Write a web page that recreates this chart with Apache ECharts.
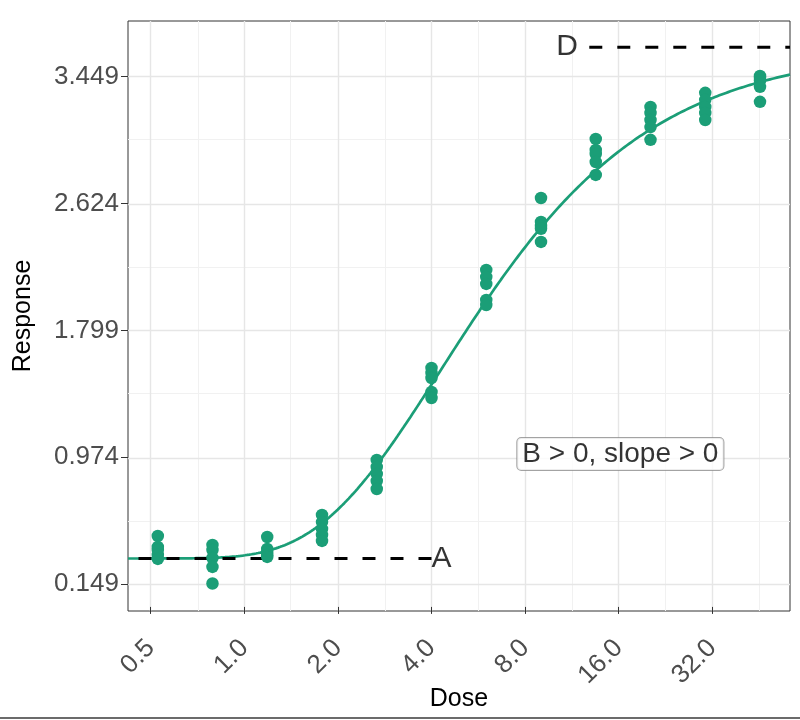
<!DOCTYPE html>
<html>
<head>
<meta charset="utf-8">
<script src="https://cdn.jsdelivr.net/npm/echarts@6/dist/echarts.min.js"></script>
<style>html,body{margin:0;padding:0;background:#fff}#c{width:800px;height:720px}</style>
</head>
<body>
<div id="c"></div>
<script>
// ---- data ----
const doses = [0.527, 0.79, 1.185, 1.778, 2.667, 4, 6, 9, 13.5, 20.25, 30.375, 45.5625];
const responsesByDose = [
  [0.461, 0.390, 0.370, 0.338, 0.312],
  [0.403, 0.370, 0.318, 0.260, 0.152],
  [0.455, 0.377, 0.357, 0.338, 0.325],
  [0.598, 0.552, 0.507, 0.468, 0.429],
  [0.956, 0.910, 0.865, 0.819, 0.767],
  [1.554, 1.522, 1.489, 1.398, 1.359],
  [2.192, 2.146, 2.101, 1.996, 1.964],
  [2.660, 2.504, 2.478, 2.459, 2.374],
  [3.044, 2.972, 2.946, 2.894, 2.810],
  [3.252, 3.213, 3.167, 3.121, 3.038],
  [3.344, 3.298, 3.252, 3.213, 3.167],
  [3.454, 3.441, 3.422, 3.383, 3.285]
];
// fitted model parameters (lower asymptote A, upper asymptote D, slope B, location C)
const paramA = 0.315;
const paramD = 3.641;
const paramB = 1.12;
const paramC = 4.28;
// annotation anchors (dose units)
const aSegmentEnd = 4;
const dSegmentStart = 12.87;
const dLabelDose = 11.84;
const boxLabel = 'B > 0, slope > 0';
const boxDose = 16.2;
const boxResponse = 0.995;
// axes
const xTicks = [0.5, 1, 2, 4, 8, 16, 32];
const xMinor = [0.7071, 1.4142, 2.8284, 5.6569, 11.3137, 22.6274, 45.2548];
const yTicks = [0.149, 0.974, 1.799, 2.624, 3.449];
const yMinor = [0.5615, 1.3865, 2.2115, 3.0365];
const xMin = 0.4226, xMax = 56.9;
const yMin = -0.0266, yMax = 3.811;

// ---- build ----
const green = '#1B9E77';
const font = 'Liberation Sans, Arial, Helvetica, sans-serif';
const points = [];
doses.forEach((d, i) => responsesByDose[i].forEach(r => points.push([d, r])));

function model(x) {
  return paramA + (paramD - paramA) * Math.exp(-Math.exp(-paramB * (Math.log(x) - Math.log(paramC))));
}
const curve = [];
const nCurve = 300;
for (let i = 0; i <= nCurve; i++) {
  const x = Math.exp(Math.log(xMin) + (Math.log(xMax) - Math.log(xMin)) * i / nCurve);
  curve.push([x, model(x)]);
}

const major = {color: '#e6e6e6', width: 1.4, type: 'solid'};
const minor = {color: '#f1f1f1', width: 1, type: 'solid'};
const gridLines = []
  .concat(xMinor.map(v => ({xAxis: v, lineStyle: minor})))
  .concat(yMinor.map(v => ({yAxis: v, lineStyle: minor})))
  .concat(xTicks.map(v => ({xAxis: v, lineStyle: major})))
  .concat(yTicks.map(v => ({yAxis: v, lineStyle: major})));

const chart = echarts.init(document.getElementById('c'), null, {renderer: 'canvas'});
chart.setOption({
  animation: false,
  backgroundColor: '#ffffff',
  textStyle: {fontFamily: font},
  grid: {left: 128, top: 21, right: 10, bottom: 109, show: true, borderColor: '#333333', borderWidth: 1, backgroundColor: 'transparent', containLabel: false, outerBoundsMode: 'none'},
  xAxis: {
    type: 'log', logBase: 2, min: xMin, max: xMax,
    name: 'Dose', nameLocation: 'middle', nameGap: 76, nameMoveOverlap: false,
    nameTextStyle: {fontSize: 25, color: '#000', fontFamily: font},
    axisLine: {show: false},
    axisTick: {show: true, length: 7, customValues: xTicks, lineStyle: {color: '#333', width: 1}},
    axisLabel: {show: true, rotate: 45, margin: 33, fontSize: 26, color: '#4d4d4d', fontFamily: font,
      customValues: xTicks, formatter: v => Number(v).toFixed(1)},
    splitLine: {show: false}, minorSplitLine: {show: false}
  },
  yAxis: {
    type: 'value', min: yMin, max: yMax,
    name: 'Response', nameLocation: 'middle', nameGap: 92, nameMoveOverlap: false,
    nameTextStyle: {fontSize: 25, color: '#000', fontFamily: font},
    axisLine: {show: false},
    axisTick: {show: true, length: 7, customValues: yTicks, lineStyle: {color: '#333', width: 1}},
    axisLabel: {show: true, margin: 9, fontSize: 26, color: '#4d4d4d', fontFamily: font,
      customValues: yTicks, formatter: v => Number(v).toFixed(3)},
    splitLine: {show: false}
  },
  graphic: [{type: 'line', shape: {x1: 0, y1: 718, x2: 800, y2: 718}, style: {stroke: '#6b6b6b', lineWidth: 2}, silent: true}],
  series: [
    {
      name: 'grid', type: 'line', data: [[1, 1]], showSymbol: false, lineStyle: {width: 0}, silent: true, z: 0,
      markLine: {silent: true, symbol: ['none', 'none'], label: {show: false}, z: 0, animation: false, data: gridLines}
    },
    {
      name: 'fit', type: 'line', data: curve, showSymbol: false, smooth: false, clip: true, z: 2,
      lineStyle: {color: green, width: 2.7}, silent: true
    },
    {
      name: 'A', type: 'line', data: [[aSegmentEnd, paramA], [xMin, paramA]], showSymbol: false, clip: true, z: 3,
      lineStyle: {color: '#000', width: 3, type: [13, 15]}, silent: true
    },
    {
      name: 'D', type: 'line', data: [[dSegmentStart, paramD], [xMax, paramD]], showSymbol: false, clip: true, z: 3,
      lineStyle: {color: '#000', width: 3, type: [13, 15]}, silent: true
    },
    {
      name: 'obs', type: 'scatter', data: points, symbol: 'circle', symbolSize: 12.5, z: 4,
      itemStyle: {color: green, opacity: 1}
    },
    {
      name: 'labels', type: 'scatter', symbolSize: 0, z: 5, silent: true,
      data: [
        {value: [aSegmentEnd, paramA], label: {show: true, formatter: 'A', position: 'right', distance: 0, fontSize: 30, color: '#000000', textBorderWidth: 0, fontFamily: font}},
        {value: [dLabelDose, paramD], label: {show: true, formatter: 'D', position: 'left', distance: 0, fontSize: 30, color: '#000000', textBorderWidth: 0, fontFamily: font}},
        {value: [boxDose, boxResponse], label: {show: true, formatter: boxLabel, position: 'inside', fontSize: 28, color: '#000000', textBorderWidth: 0, fontFamily: font,
          backgroundColor: '#fff', borderColor: '#8c8c8c', borderWidth: 1, borderRadius: 4, padding: [2, 5, 1, 5], lineHeight: 29}}
      ]
    }
  ]
});
</script>
</body>
</html>
